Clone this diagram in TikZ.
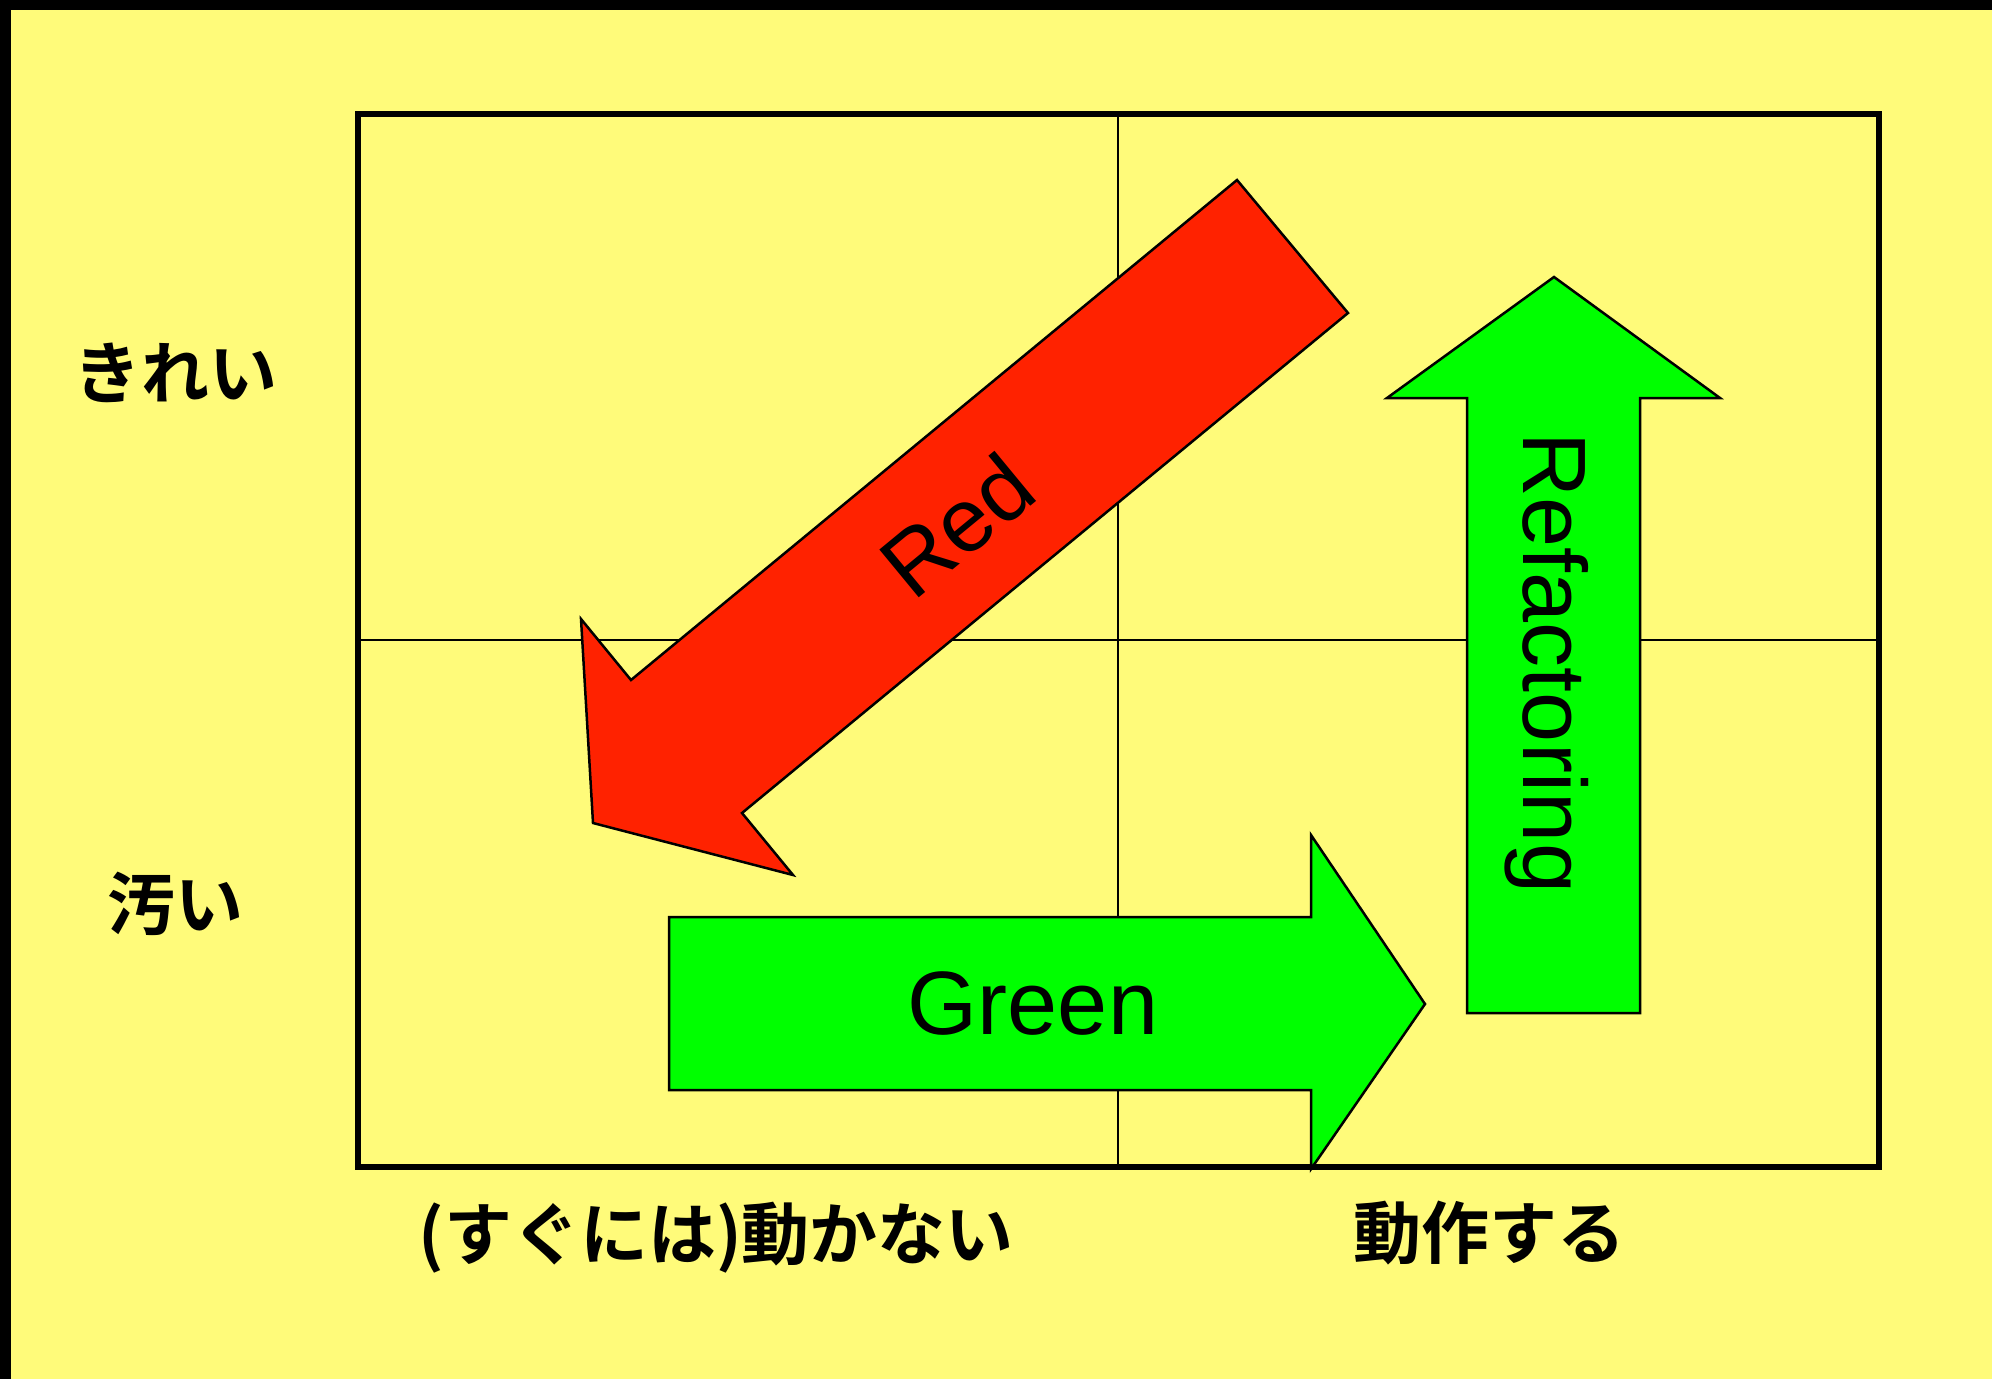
\documentclass[tikz,border=0pt]{standalone}
\usepackage{fontspec}
\setmainfont{Liberation Sans}
\newfontfamily\jpfont{Noto Sans CJK JP}[BoldFont={* Bold}]
\definecolor{pad}{HTML}{FFFB7A}
\definecolor{redarrow}{HTML}{FF2200}
\definecolor{greenarrow}{HTML}{00FF00}

\begin{document}
\begin{tikzpicture}[x=1pt,y=-1pt,
	arrowshape/.style={draw=black, line width=2.5pt, line join=miter},
	word/.style={font=\fontsize{90}{90}\selectfont, inner sep=0pt},
	jplabel/.style={font=\jpfont\bfseries\fontsize{68}{68}\selectfont, inner sep=0pt}]
	\def\L{358}
	\def\R{1879}
	\def\T{114}
	\def\B{1167}
	\def\MX{1118}
	\def\MY{640}

	\useasboundingbox (0,0) rectangle (1992,1379);
	\fill[black]	(0,0) rectangle (1992,1379);
	\fill[pad]	(11,10) rectangle (1992,1379);

	% quadrants
	\draw[line width=2pt]	(\MX,\T) -- (\MX,\B);
	\draw[line width=2pt]	(\L,\MY) -- (\R,\MY);
	\draw[line width=6pt]	(\L,\T) rectangle (\R,\B);

	% the three steps
	\fill[redarrow, arrowshape]	(1237,180) -- (1348,313) -- (742,813) -- (793,875) -- (593,823) -- (581,619) -- (631,680) -- cycle;
	\fill[greenarrow, arrowshape]	(669,917) -- (1311,917) -- (1311,835) -- (1425,1004) -- (1311,1169) -- (1311,1090) -- (669,1090) -- cycle;
	\fill[greenarrow, arrowshape]	(1467,1013) -- (1467,398) -- (1387,398) -- (1554,277) -- (1720,398) -- (1640,398) -- (1640,1013) -- cycle;

	\node[word, rotate=39.5, anchor=base]	(red) at (977,550) {Red};
	\node[word, anchor=base]	(green) at (1033,1034) {Green};
	\node[word, rotate=-90, anchor=base]	(refactoring) at (1523,663) {Refactoring};

	% axes
	\node[jplabel]	(clean) at (175,373) {きれい};
	\node[jplabel]	(dirty) at (175,904) {汚い};
	\node[jplabel]	(notyet) at (716,1238) {(すぐには)動かない};
	\node[jplabel]	(works) at (1489,1233) {動作する};
\end{tikzpicture}
\end{document}
